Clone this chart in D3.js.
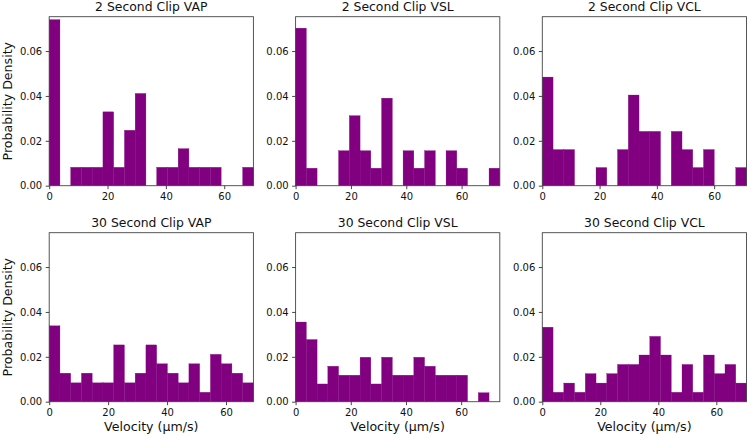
<!DOCTYPE html>
<meta charset="utf-8">
<style>
body { margin: 0; background: #fff; }
text { font-family: "DejaVu Sans", sans-serif; fill: #111; }
.axis text { font-size: 10px; }
.axis path, .axis line { stroke: #333; stroke-width: 0.9px; }
.frame { fill: none; stroke: #444; stroke-width: 0.9px; }
.bar { fill: #800080; stroke: #800080; stroke-width: 0.3px; }
</style>
<svg width="748" height="438"></svg>
<script src="https://d3js.org/d3.v7.min.js"></script>
<script>

// histogram densities, 19 equal bins from 0 to the max velocity of each clip
var vap2 = [0.0740,0,0.0082,0.0082,0.0082,0.0329,0.0082,0.0247,0.0411,0,0.0082,0.0082,0.0165,0.0082,0.0082,0.0082,0,0,0.0082];
var vsl2 = [0.0702,0.0078,0,0,0.0156,0.0312,0.0156,0.0078,0.0390,0,0.0156,0.0078,0.0156,0,0.0156,0.0078,0,0,0.0078];
var vcl2 = [0.0484,0.0161,0.0161,0,0,0.0081,0,0.0161,0.0404,0.0242,0.0242,0,0.0242,0.0161,0.0081,0.0161,0,0,0.0081];
var vap30 = [0.0338,0.0127,0.0084,0.0127,0.0084,0.0084,0.0253,0.0084,0.0127,0.0253,0.0169,0.0127,0.0084,0.0169,0.0042,0.0211,0.0169,0.0127,0.0084];
var vsl30 = [0.0355,0.0277,0.0079,0.0158,0.0118,0.0118,0.0198,0.0079,0.0198,0.0118,0.0118,0.0198,0.0158,0.0118,0.0118,0.0118,0,0.0040,0];
var vcl30 = [0.0332,0.0042,0.0083,0.0042,0.0125,0.0083,0.0125,0.0166,0.0166,0.0208,0.0291,0.0208,0.0042,0.0166,0.0042,0.0208,0.0125,0.0166,0.0083];

var titles = ["2 Second Clip VAP", "2 Second Clip VSL", "2 Second Clip VCL",
              "30 Second Clip VAP", "30 Second Clip VSL", "30 Second Clip VCL"];
var maxVelocity = [70.0, 73.8, 71.3, 69.3, 74.0, 70.4];
var xTicks = [0, 20, 40, 60];
var yTicks = [0, 0.02, 0.04, 0.06];
var yMax = 0.0753;

var series = [vap2, vsl2, vcl2, vap30, vsl30, vcl30];

var svg = d3.select("svg");
var colLeft = [49.2, 295.6, 542.3],
    rowTop = [16.7, 232.7],
    w = 204.2,
    h = 169;

var y = d3.scaleLinear().domain([0, yMax]).range([h, 0]);

series.forEach(function(vals, k) {
  var col = k % 3, row = Math.floor(k / 3);
  var g = svg.append("g")
      .attr("transform", "translate(" + colLeft[col] + "," + rowTop[row] + ")");

  var x = d3.scaleLinear().domain([0, maxVelocity[k]]).range([0, w]);
  var bw = maxVelocity[k] / vals.length;

  g.selectAll(".bar")
    .data(vals)
    .enter().append("rect")
      .attr("class", "bar")
      .attr("x", function(d, i) { return x(i * bw); })
      .attr("width", function(d, i) { return x((i + 1) * bw) - x(i * bw); })
      .attr("y", function(d) { return y(d); })
      .attr("height", function(d) { return h - y(d); })
      .style("display", function(d) { return d > 0 ? null : "none"; });

  g.append("rect")
      .attr("class", "frame")
      .attr("width", w)
      .attr("height", h);

  g.append("g")
      .attr("class", "axis")
      .attr("transform", "translate(0," + h + ")")
      .call(d3.axisBottom(x).tickValues(xTicks).tickSize(3.5).tickPadding(3.5).tickSizeOuter(0))
      .call(function(a) { a.select(".domain").remove(); });

  g.append("g")
      .attr("class", "axis")
      .call(d3.axisLeft(y).tickValues(yTicks).tickFormat(d3.format(".2f")).tickSize(3.5).tickPadding(3.5).tickSizeOuter(0))
      .call(function(a) { a.select(".domain").remove(); });

  g.append("text")
      .attr("x", w / 2)
      .attr("y", -5.8)
      .attr("text-anchor", "middle")
      .style("font-size", "12.4px")
      .text(titles[k]);

  if (col == 0) {
    g.append("text")
        .attr("transform", "translate(" + (-37.5) + "," + (h / 2) + ") rotate(-90)")
        .attr("text-anchor", "middle")
        .style("font-size", "12.6px")
        .text("Probability Density");
  }
  if (row == 1) {
    g.append("text")
        .attr("x", w / 2)
        .attr("y", h + 29.5)
        .attr("text-anchor", "middle")
        .style("font-size", "12.6px")
        .text("Velocity (µm/s)");
  }
});

</script>
